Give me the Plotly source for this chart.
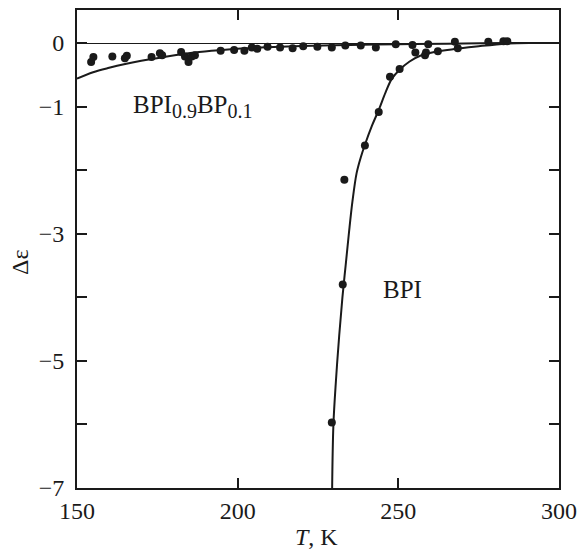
import plotly.graph_objects as go

# BPI0.9BP0.1 measured points
mix_T = [154.4, 155.1, 161.0, 164.9, 165.5, 173.2, 175.8, 176.5, 182.4, 183.6, 184.7, 185.7, 186.7,
         194.7, 198.9, 202.1, 204.4, 206.1, 209.3, 213.2, 217.1, 220.4, 224.8, 229.3, 233.5,
         238.3, 243.0, 249.2, 254.4, 259.3, 267.6]
mix_E = [-0.30, -0.22, -0.21, -0.24, -0.20, -0.22, -0.16, -0.19, -0.14, -0.21, -0.30, -0.21, -0.19,
         -0.12, -0.11, -0.12, -0.07, -0.09, -0.06, -0.07, -0.08, -0.05, -0.06, -0.07, -0.04,
         -0.04, -0.07, -0.02, -0.03, -0.02, 0.02]

# BPI0.9BP0.1 fitted curve
mix_fit_T = [150, 155, 160, 165, 170, 178, 188, 197, 207, 220, 235, 250, 265, 283, 300]
mix_fit_E = [-0.56, -0.46, -0.39, -0.33, -0.28, -0.21, -0.14, -0.10, -0.07, -0.045, -0.03, -0.02, -0.01, 0.0, 0.0]

# BPI measured points
bpi_T = [229.3, 232.7, 233.2, 239.6, 243.9, 247.4, 250.4, 255.3, 258.3, 258.6, 262.3, 268.5, 278.0, 282.7, 283.9]
bpi_E = [-5.97, -3.80, -2.15, -1.61, -1.085, -0.53, -0.41, -0.15, -0.19, -0.15, -0.13, -0.08, 0.02, 0.03, 0.03]

# BPI fitted curve
bpi_fit_T = [229.4, 229.8, 230.6, 231.6, 232.6, 233.6, 234.6, 235.7, 237.0, 238.3, 239.6, 241.8,
             244.0, 246.0, 248.0, 250.4, 253.5, 256.8, 262.3, 268.2, 275.0, 283.7, 292.0, 300.0]
bpi_fit_E = [-7.0, -6.0, -5.3, -4.6, -4.0, -3.5, -3.0, -2.5, -2.05, -1.8, -1.6, -1.3,
             -1.04, -0.78, -0.56, -0.42, -0.29, -0.20, -0.13, -0.09, -0.05, -0.01, 0.0, 0.0]

x_ticks = [150, 200, 250, 300]
y_ticks = [0, -1, -3, -5, -7]
y_ticktext = ["0", "\u22121", "\u22123", "\u22125", "\u22127"]
y_minor_ticks = [-2, -4, -6]

FONT = "Liberation Serif"
INK = "#1a1a1a"
fig = go.Figure()

fig.add_trace(go.Scatter(x=mix_fit_T, y=mix_fit_E, mode="lines", line=dict(color=INK, width=2, shape="spline"),
                         hoverinfo="skip", showlegend=False))
fig.add_trace(go.Scatter(x=bpi_fit_T, y=bpi_fit_E, mode="lines", line=dict(color=INK, width=2, shape="spline"),
                         hoverinfo="skip", showlegend=False))
fig.add_trace(go.Scatter(x=mix_T, y=mix_E, mode="markers", marker=dict(color=INK, size=8),
                         showlegend=False))
fig.add_trace(go.Scatter(x=bpi_T, y=bpi_E, mode="markers", marker=dict(color=INK, size=8),
                         showlegend=False))

fig.add_annotation(x=166.8, y=-1.0, xref="x", yref="y",
                   text="BPI<sub><span style='font-size:20px'>0.9</span></sub>BP<sub><span style='font-size:20px'>0.1</span></sub>",
                   showarrow=False, xanchor="left", yanchor="middle", font=dict(family=FONT, size=25, color=INK))
fig.add_annotation(x=251.2, y=-3.88, xref="x", yref="y", text="BPI",
                   showarrow=False, xanchor="center", yanchor="middle", font=dict(family=FONT, size=25, color=INK))

# axis titles
fig.add_annotation(x=0.496, y=-0.103, xref="paper", yref="paper", text="<i>T</i>, K",
                   showarrow=False, xanchor="center", yanchor="middle", font=dict(family=FONT, size=24, color=INK))
fig.add_annotation(x=-0.118, y=0.473, xref="paper", yref="paper", text="\u0394\u03b5", textangle=-90,
                   showarrow=False, xanchor="center", yanchor="middle", font=dict(family=FONT, size=24, color=INK))

fig.update_xaxes(range=[150, 300], tickvals=x_ticks, ticks="inside", ticklen=10, tickwidth=1.5,
                 tickcolor=INK, showline=True, linecolor=INK, linewidth=2, mirror="ticks",
                 showgrid=False, zeroline=False, automargin=False,
                 tickfont=dict(family=FONT, size=24, color=INK))
fig.update_yaxes(range=[-7, 0.52], tickvals=y_ticks, ticktext=y_ticktext, ticks="inside", ticklen=10, tickwidth=1.5,
                 tickcolor=INK, showline=True, linecolor=INK, linewidth=2, mirror="ticks",
                 minor=dict(tickvals=y_minor_ticks, ticks="inside", ticklen=10, tickwidth=1.5, tickcolor=INK,
                            showgrid=False),
                 showgrid=False, zeroline=True, zerolinecolor=INK, zerolinewidth=1.2, automargin=False,
                 ticklabelstandoff=6,
                 tickfont=dict(family=FONT, size=24, color=INK))

fig.update_layout(width=579, height=551, margin=dict(l=77, r=20, t=10, b=63),
                  plot_bgcolor="white", paper_bgcolor="white")

fig.write_html("out.html", config={"displayModeBar": False},
               post_script="document.body.style.margin='0';document.body.style.overflow='hidden';")
